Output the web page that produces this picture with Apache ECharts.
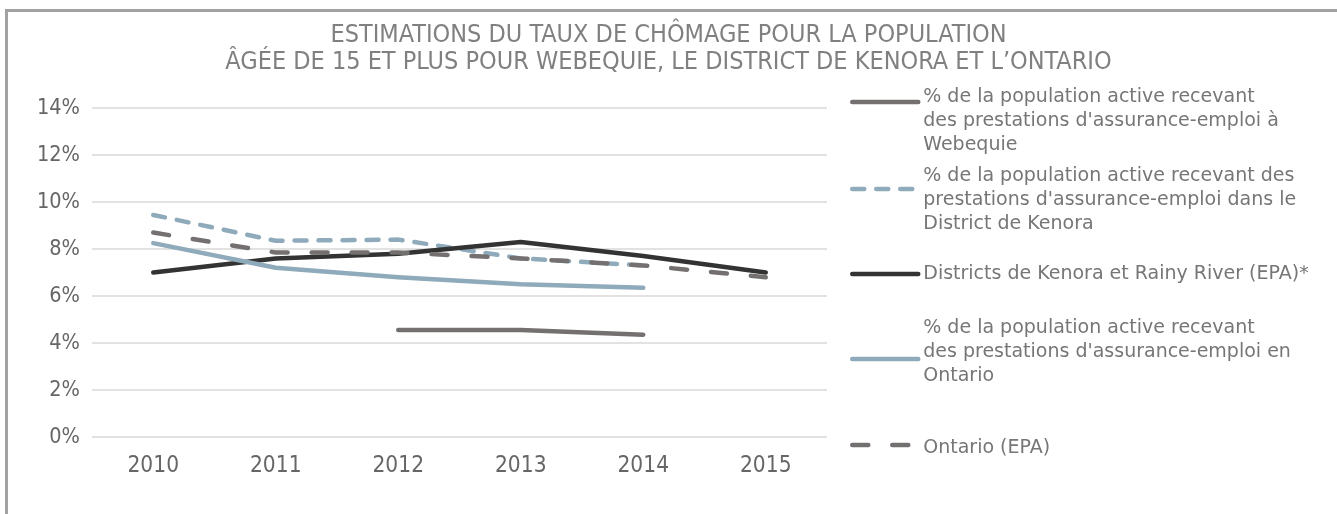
<!DOCTYPE html>
<html>
<head>
<meta charset="utf-8">
<script src="https://cdn.jsdelivr.net/npm/echarts@6/dist/echarts.min.js"></script>
<style>html,body{margin:0;padding:0;background:#fff}#c{width:1337px;height:514px}</style>
</head>
<body>
<div id="c"></div>
<script>
const categories = ['2010', '2011', '2012', '2013', '2014', '2015'];
const yTicks = ['0%', '2%', '4%', '6%', '8%', '10%', '12%', '14%'];
const seriesNames = [
  "% de la population active recevant\ndes prestations d'assurance-emploi à\nWebequie",
  "% de la population active recevant des\nprestations d'assurance-emploi dans le\nDistrict de Kenora",
  "Districts de Kenora et Rainy River (EPA)*",
  "% de la population active recevant\ndes prestations d'assurance-emploi en\nOntario",
  "Ontario (EPA)"
];
const webequieEI = [null, null, 4.55, 4.55, 4.35, null];
const kenoraEI = [9.45, 8.35, 8.4, 7.6, 7.3, null];
const kenoraRainyEPA = [7.0, 7.6, 7.8, 8.3, 7.7, 7.0];
const ontarioEI = [8.25, 7.2, 6.8, 6.5, 6.35, null];
const ontarioEPA = [8.7, 7.85, 7.85, 7.6, 7.3, 6.8];

const GRAY = '#757070', BLUE = '#8eaabb', BLACK = '#333333', TXT = '#767676';
const seriesData = [webequieEI, kenoraEI, kenoraRainyEPA, ontarioEI, ontarioEPA];
const styles = [
  {color: GRAY, type: 'solid'},
  {color: BLUE, type: [12, 12]},
  {color: BLACK, type: 'solid'},
  {color: BLUE, type: 'solid'},
  {color: GRAY, type: [16, 24]}
];
// legend layout: icon centre y, extra spacer line above (+) or below (-) the text
const legendIconY = [102, 189, 274, 359, 445];
const legendSpacer = [38, 22, 0, -14, 6];
const LH = 24;

function legendFormatter(i) {
  return function (name) {
    const s = legendSpacer[i];
    if (s > 0) return '{sp| }\n' + name;
    if (s < 0) return name + '\n{sn| }';
    return name;
  };
}
function legendTop(i) {
  const lines = seriesNames[i].split('\n').length;
  const h = lines * LH + Math.abs(legendSpacer[i]);
  return legendIconY[i] - h / 2;
}

const chart = echarts.init(document.getElementById('c'), null, {renderer: 'canvas'});
const option = {
  animation: false,
  backgroundColor: '#ffffff',
  title: {
    text: 'ESTIMATIONS DU TAUX DE CHÔMAGE POUR LA POPULATION\nÂGÉE DE 15 ET PLUS POUR WEBEQUIE, LE DISTRICT DE KENORA ET L\u2019ONTARIO',
    left: 'center', top: 17,
    textStyle: {fontFamily: 'DejaVu Sans Condensed', fontWeight: 'normal', fontSize: 25, lineHeight: 27, color: '#808080'}
  },
  graphic: [{
    type: 'rect', silent: true,
    shape: {x: 6.5, y: 10.5, width: 1400, height: 600},
    style: {fill: 'none', stroke: '#a0a3a0', lineWidth: 3}
  }],
  grid: {left: 92, right: 510, top: 108, bottom: 77, containLabel: false},
  xAxis: {
    type: 'category', data: categories, boundaryGap: true,
    axisLine: {show: false}, axisTick: {show: false},
    axisLabel: {margin: 18, fontFamily: 'DejaVu Sans Condensed', fontSize: 22.5, color: '#666666'}
  },
  yAxis: {
    type: 'value', min: 0, max: 14, interval: 2,
    axisLine: {show: false}, axisTick: {show: false},
    splitLine: {lineStyle: {color: '#d9d9d9', width: 1.5}},
    axisLabel: {margin: 12, fontFamily: 'DejaVu Sans Condensed', fontSize: 21.5, color: '#666666',
      formatter: (v) => yTicks[Math.round(v / 2)]}
  },
  legend: seriesNames.map((n, i) => ({
    data: [n], orient: 'vertical', left: 850, top: legendTop(i), padding: 0,
    itemWidth: 66, itemHeight: 4, itemGap: 5, selectedMode: false,
    formatter: legendFormatter(i),
    itemStyle: {color: 'transparent', borderWidth: 0},
    lineStyle: {color: styles[i].color, width: 4.5, type: styles[i].type, cap: 'round'},
    textStyle: {fontFamily: 'DejaVu Sans', fontSize: 19, lineHeight: LH, color: TXT,
      rich: {
        sp: {lineHeight: Math.abs(legendSpacer[i]) || 1, height: Math.abs(legendSpacer[i]) || 1, fontSize: 1},
        sn: {lineHeight: Math.abs(legendSpacer[i]) || 1, height: Math.abs(legendSpacer[i]) || 1, fontSize: 1}
      }}
  })),
  series: seriesNames.map((n, i) => ({
    name: n, type: 'line', data: seriesData[i], symbol: 'none', smooth: false,
    connectNulls: false,
    lineStyle: {color: styles[i].color, width: 4.5, type: styles[i].type, cap: 'round', join: 'round'},
    itemStyle: {color: styles[i].color}
  }))
};
chart.setOption(option);
</script>
</body>
</html>
